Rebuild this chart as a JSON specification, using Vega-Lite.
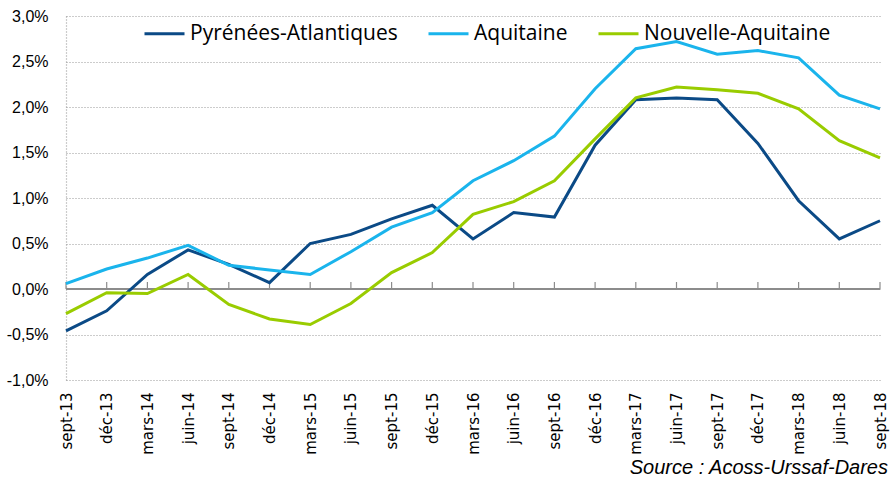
{
  "$schema": "https://vega.github.io/schema/vega-lite/v6.json",
  "autosize": {"type": "none"},
  "width": 814,
  "height": 364,
  "padding": {"left": 66, "top": 16, "right": 14, "bottom": 101},
  "background": "white",
  "config": {"view": {"stroke": null}, "font": "Liberation Sans"},
  "title": {"text": "Source : Acoss-Urssaf-Dares", "orient": "bottom", "anchor": "end", "frame": "group", "fontStyle": "italic", "fontWeight": "normal", "fontSize": 20, "font": "Liberation Sans", "color": "#000000", "offset": 4, "dx": 8},
  "datasets": {
    "months": [
      {"month": "sept-13"}, {"month": "déc-13"}, {"month": "mars-14"}, {"month": "juin-14"}, {"month": "sept-14"}, {"month": "déc-14"}, {"month": "mars-15"}, {"month": "juin-15"}, {"month": "sept-15"}, {"month": "déc-15"}, {"month": "mars-16"}, {"month": "juin-16"}, {"month": "sept-16"}, {"month": "déc-16"}, {"month": "mars-17"}, {"month": "juin-17"}, {"month": "sept-17"}, {"month": "déc-17"}, {"month": "mars-18"}, {"month": "juin-18"}, {"month": "sept-18"}
    ],
    "series": [
      {"month": "sept-13", "serie": "Pyrénées-Atlantiques", "value": -0.46},
      {"month": "déc-13", "serie": "Pyrénées-Atlantiques", "value": -0.24},
      {"month": "mars-14", "serie": "Pyrénées-Atlantiques", "value": 0.16},
      {"month": "juin-14", "serie": "Pyrénées-Atlantiques", "value": 0.43},
      {"month": "sept-14", "serie": "Pyrénées-Atlantiques", "value": 0.27},
      {"month": "déc-14", "serie": "Pyrénées-Atlantiques", "value": 0.07},
      {"month": "mars-15", "serie": "Pyrénées-Atlantiques", "value": 0.50},
      {"month": "juin-15", "serie": "Pyrénées-Atlantiques", "value": 0.60},
      {"month": "sept-15", "serie": "Pyrénées-Atlantiques", "value": 0.77},
      {"month": "déc-15", "serie": "Pyrénées-Atlantiques", "value": 0.92},
      {"month": "mars-16", "serie": "Pyrénées-Atlantiques", "value": 0.55},
      {"month": "juin-16", "serie": "Pyrénées-Atlantiques", "value": 0.84},
      {"month": "sept-16", "serie": "Pyrénées-Atlantiques", "value": 0.79},
      {"month": "déc-16", "serie": "Pyrénées-Atlantiques", "value": 1.58},
      {"month": "mars-17", "serie": "Pyrénées-Atlantiques", "value": 2.08},
      {"month": "juin-17", "serie": "Pyrénées-Atlantiques", "value": 2.10},
      {"month": "sept-17", "serie": "Pyrénées-Atlantiques", "value": 2.08},
      {"month": "déc-17", "serie": "Pyrénées-Atlantiques", "value": 1.60},
      {"month": "mars-18", "serie": "Pyrénées-Atlantiques", "value": 0.97},
      {"month": "juin-18", "serie": "Pyrénées-Atlantiques", "value": 0.55},
      {"month": "sept-18", "serie": "Pyrénées-Atlantiques", "value": 0.75},
      {"month": "sept-13", "serie": "Aquitaine", "value": 0.06},
      {"month": "déc-13", "serie": "Aquitaine", "value": 0.22},
      {"month": "mars-14", "serie": "Aquitaine", "value": 0.34},
      {"month": "juin-14", "serie": "Aquitaine", "value": 0.48},
      {"month": "sept-14", "serie": "Aquitaine", "value": 0.26},
      {"month": "déc-14", "serie": "Aquitaine", "value": 0.21},
      {"month": "mars-15", "serie": "Aquitaine", "value": 0.16},
      {"month": "juin-15", "serie": "Aquitaine", "value": 0.41},
      {"month": "sept-15", "serie": "Aquitaine", "value": 0.68},
      {"month": "déc-15", "serie": "Aquitaine", "value": 0.84},
      {"month": "mars-16", "serie": "Aquitaine", "value": 1.19},
      {"month": "juin-16", "serie": "Aquitaine", "value": 1.41},
      {"month": "sept-16", "serie": "Aquitaine", "value": 1.68},
      {"month": "déc-16", "serie": "Aquitaine", "value": 2.20},
      {"month": "mars-17", "serie": "Aquitaine", "value": 2.64},
      {"month": "juin-17", "serie": "Aquitaine", "value": 2.72},
      {"month": "sept-17", "serie": "Aquitaine", "value": 2.58},
      {"month": "déc-17", "serie": "Aquitaine", "value": 2.62},
      {"month": "mars-18", "serie": "Aquitaine", "value": 2.54},
      {"month": "juin-18", "serie": "Aquitaine", "value": 2.13},
      {"month": "sept-18", "serie": "Aquitaine", "value": 1.98},
      {"month": "sept-13", "serie": "Nouvelle-Aquitaine", "value": -0.27},
      {"month": "déc-13", "serie": "Nouvelle-Aquitaine", "value": -0.04},
      {"month": "mars-14", "serie": "Nouvelle-Aquitaine", "value": -0.05},
      {"month": "juin-14", "serie": "Nouvelle-Aquitaine", "value": 0.16},
      {"month": "sept-14", "serie": "Nouvelle-Aquitaine", "value": -0.17},
      {"month": "déc-14", "serie": "Nouvelle-Aquitaine", "value": -0.33},
      {"month": "mars-15", "serie": "Nouvelle-Aquitaine", "value": -0.39},
      {"month": "juin-15", "serie": "Nouvelle-Aquitaine", "value": -0.16},
      {"month": "sept-15", "serie": "Nouvelle-Aquitaine", "value": 0.18},
      {"month": "déc-15", "serie": "Nouvelle-Aquitaine", "value": 0.40},
      {"month": "mars-16", "serie": "Nouvelle-Aquitaine", "value": 0.82},
      {"month": "juin-16", "serie": "Nouvelle-Aquitaine", "value": 0.96},
      {"month": "sept-16", "serie": "Nouvelle-Aquitaine", "value": 1.19},
      {"month": "déc-16", "serie": "Nouvelle-Aquitaine", "value": 1.65},
      {"month": "mars-17", "serie": "Nouvelle-Aquitaine", "value": 2.10},
      {"month": "juin-17", "serie": "Nouvelle-Aquitaine", "value": 2.22},
      {"month": "sept-17", "serie": "Nouvelle-Aquitaine", "value": 2.19},
      {"month": "déc-17", "serie": "Nouvelle-Aquitaine", "value": 2.15},
      {"month": "mars-18", "serie": "Nouvelle-Aquitaine", "value": 1.98},
      {"month": "juin-18", "serie": "Nouvelle-Aquitaine", "value": 1.63},
      {"month": "sept-18", "serie": "Nouvelle-Aquitaine", "value": 1.44}
    ]
  },
  "encoding": {
    "x": {
      "field": "month", "type": "ordinal",
      "scale": {"type": "point", "padding": 0, "domain": ["sept-13", "déc-13", "mars-14", "juin-14", "sept-14", "déc-14", "mars-15", "juin-15", "sept-15", "déc-15", "mars-16", "juin-16", "sept-16", "déc-16", "mars-17", "juin-17", "sept-17", "déc-17", "mars-18", "juin-18", "sept-18"]},
      "axis": {"title": null, "labelAngle": -90, "labelAlign": "right", "labelBaseline": "middle", "labelFont": "DejaVu Sans", "labelFontSize": 15, "labelColor": "#000000", "labelPadding": 12, "ticks": false, "domain": false, "grid": false}
    }
  },
  "layer": [
    {
      "data": {"name": "months"},
      "mark": {"type": "rule", "color": "#8c8c8c", "strokeWidth": 1.5},
      "encoding": {
        "y": {"datum": 0, "type": "quantitative"},
        "x": {"datum": "sept-13", "type": "ordinal"},
        "x2": {"datum": "sept-18"}
      }
    },
    {
      "data": {"name": "months"},
      "mark": {"type": "rule", "color": "#8c8c8c", "strokeWidth": 1.2, "y2Offset": -7},
      "encoding": {
        "y": {"datum": 0, "type": "quantitative"},
        "y2": {"datum": 0}
      }
    },
    {
      "data": {"name": "series"},
      "mark": {"type": "line", "strokeWidth": 3, "strokeJoin": "miter", "strokeCap": "butt"},
      "encoding": {
        "y": {
          "field": "value", "type": "quantitative",
          "scale": {"domain": [-1, 3], "nice": false, "zero": false},
          "axis": {"title": null, "values": [-1, -0.5, 0, 0.5, 1, 1.5, 2, 2.5, 3], "labelExpr": "replace(replace(format(datum.value, '.1f'), '.', ','), '\u2212', '-') + '%'", "labelFontSize": 16, "labelColor": "#000000", "labelPadding": 18, "ticks": false, "domain": true, "domainColor": "#999999", "domainDash": [1, 2], "domainWidth": 1.2, "grid": true, "gridColor": "#999999", "gridDash": [1, 2], "gridWidth": 1.2}
        },
        "color": {
          "field": "serie", "type": "nominal",
          "scale": {"domain": ["Pyrénées-Atlantiques", "Aquitaine", "Nouvelle-Aquitaine"], "range": ["#0b4a86", "#1ab4ec", "#99cc00"]},
          "legend": {"title": null, "orient": "none", "legendX": 77, "legendY": -4, "direction": "horizontal", "symbolType": "stroke", "symbolSize": 1600, "symbolStrokeWidth": 3, "labelFont": "Open Sans", "labelFontSize": 21, "labelColor": "#000000", "labelOffset": 4, "columnPadding": 24, "labelLimit": 400}
        }
      }
    }
  ]
}
